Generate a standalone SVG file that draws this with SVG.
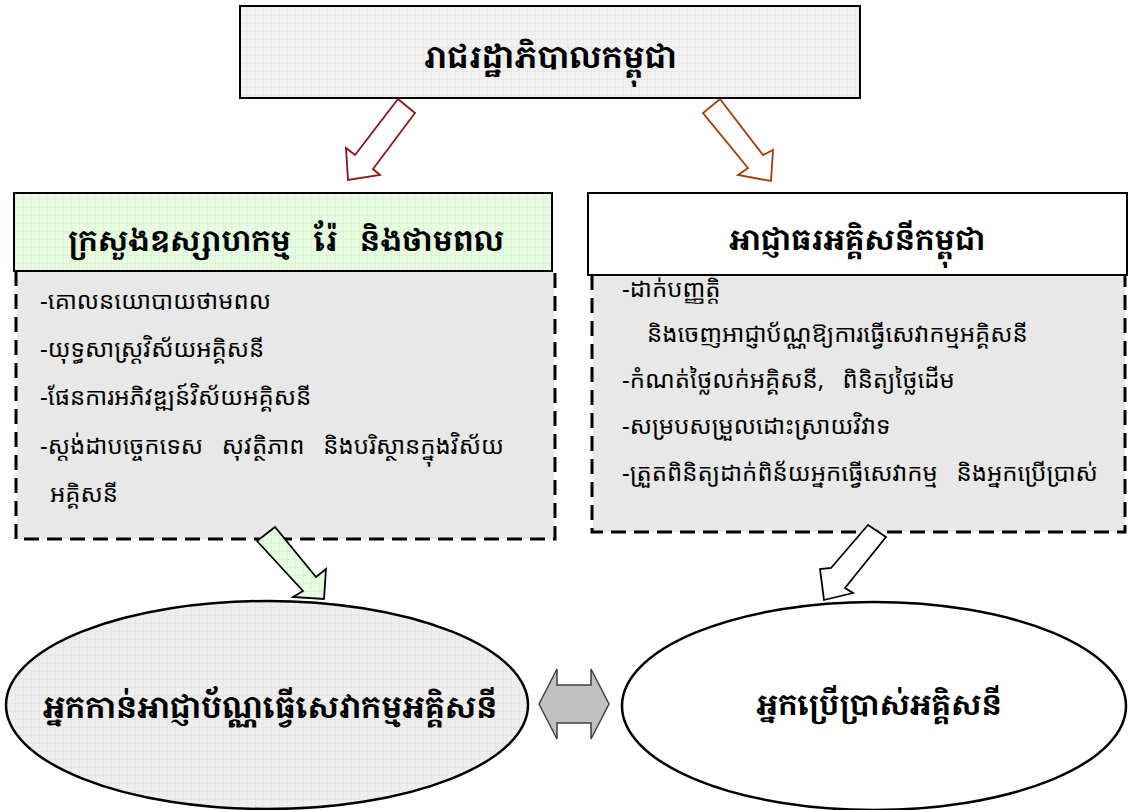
<svg xmlns="http://www.w3.org/2000/svg" width="1129" height="810" viewBox="0 0 1129 810">
<style>
.hd{font-family:"Khmer OS Muol Light","Khmer OS Muol","Noto Serif Khmer","Noto Sans Khmer","Khmer OS","Noto Sans",sans-serif;font-weight:bold;fill:#000;text-anchor:middle}
.tx{font-family:"Khmer OS","Noto Sans Khmer","Noto Serif Khmer","Noto Sans",sans-serif;font-size:24px;fill:#000}
.box{stroke:#000;stroke-width:2}
.dash{fill:none;stroke:#000;stroke-width:3;stroke-dasharray:15 8}
.ell{stroke:#000;stroke-width:2.5}
</style>
<defs>
<pattern id="gGray" width="8" height="8" patternUnits="userSpaceOnUse">
<rect width="8" height="8" fill="#f1f1f1"/>
<path d="M8 0V8M0 8H8" stroke="#dedede" stroke-width="0.8" fill="none"/>
</pattern>
<pattern id="gGreen" width="8" height="8" patternUnits="userSpaceOnUse">
<rect width="8" height="8" fill="#e6fbe0"/>
<path d="M8 0V8M0 8H8" stroke="#cdeec4" stroke-width="0.8" fill="none"/>
</pattern>
<pattern id="gEll" width="8" height="8" patternUnits="userSpaceOnUse">
<rect width="8" height="8" fill="#eeeeee"/>
<path d="M8 0V8M0 8H8" stroke="#dadada" stroke-width="0.8" fill="none"/>
</pattern>
</defs>
<rect width="1129" height="810" fill="#fff"/>

<g id="gov">
<rect class="box" x="240" y="6" width="620" height="92" fill="url(#gGray)"/>
<text class="hd" x="550" y="68" font-size="31">រាជរដ្ឋាភិបាលកម្ពុជា</text>
</g>

<g id="mime">
<rect x="17" y="271" width="537" height="268" fill="#e8e8e8"/>
<path class="dash" d="M16 271V539H555V271"/>
<rect class="box" x="14" y="193" width="538" height="78" fill="url(#gGreen)"/>
<text class="hd" x="286" y="251" font-size="29" xml:space="preserve">ក្រសួងឧស្សាហកម្ម   រ៉ែ   និងថាមពល</text>
<text class="tx" x="40" y="309">-គោលនយោបាយថាមពល</text>
<text class="tx" x="40" y="357">-យុទ្ធសាស្ត្រវិស័យអគ្គិសនី</text>
<text class="tx" x="40" y="405">-ផែនការអភិវឌ្ឍន៍វិស័យអគ្គិសនី</text>
<text class="tx" x="40" y="454" xml:space="preserve">-ស្តង់ដាបច្ចេកទេស   សុវត្ថិភាព   និងបរិស្ថានក្នុងវិស័យ</text>
<text class="tx" x="50" y="502">អគ្គិសនី</text>
</g>

<g id="eac">
<rect x="593" y="275" width="532" height="257" fill="#e8e8e8"/>
<path class="dash" d="M592 275V532H1125V275"/>
<rect class="box" x="588" y="193" width="539" height="82" fill="#fff"/>
<text class="hd" x="857" y="250" font-size="29">អាជ្ញាធរអគ្គិសនីកម្ពុជា</text>
<text class="tx" x="622" y="297">-ដាក់បញ្ញត្តិ</text>
<text class="tx" x="647" y="342">និងចេញអាជ្ញាប័ណ្ណឱ្យការធ្វើសេវាកម្មអគ្គិសនី</text>
<text class="tx" x="622" y="388" xml:space="preserve">-កំណត់ថ្លៃលក់អគ្គិសនី,   ពិនិត្យថ្លៃដើម</text>
<text class="tx" x="622" y="434">-សម្របសម្រួលដោះស្រាយវិវាទ</text>
<text class="tx" x="622" y="481" xml:space="preserve">-ត្រួតពិនិត្យដាក់ពិន័យអ្នកធ្វើសេវាកម្ម   និងអ្នកប្រើប្រាស់</text>
</g>

<g id="licensee">
<ellipse class="ell" cx="267" cy="705" rx="261" ry="104" fill="url(#gEll)"/>
<text class="hd" x="270" y="718" font-size="30">អ្នកកាន់អាជ្ញាប័ណ្ណធ្វើសេវាកម្មអគ្គិសនី</text>
</g>

<g id="consumer">
<ellipse class="ell" cx="874" cy="706" rx="252" ry="104" fill="#fff"/>
<text class="hd" x="879" y="715" font-size="29">អ្នកប្រើប្រាស់អគ្គិសនី</text>
</g>

<g id="connectors" stroke-linejoin="miter">
<polygon points="398,99 355,155 346,148 348,180 380,175 373,169 415,113" fill="#fff" stroke="#8b1414" stroke-width="1.8"/>
<polygon points="720,99 763,155 773,150 771,181 738,175 748,168 703,113" fill="#fff" stroke="#a23c0a" stroke-width="1.8"/>
<polygon points="257,541 303,591 293,597 324,599 326,569 316,577 275,527" fill="url(#gGreen)" stroke="#000" stroke-width="1.8"/>
<polygon points="868,525 831,568 820,569 824,600 853,593 845,588 886,537" fill="#fff" stroke="#000" stroke-width="1.8"/>
<polygon points="539,704 557,669 557,685 591,685 591,669 609,704 591,739 591,723 557,723 557,739" fill="#c0c0c0" stroke="#404040" stroke-width="1.5"/>
</g>
</svg>
